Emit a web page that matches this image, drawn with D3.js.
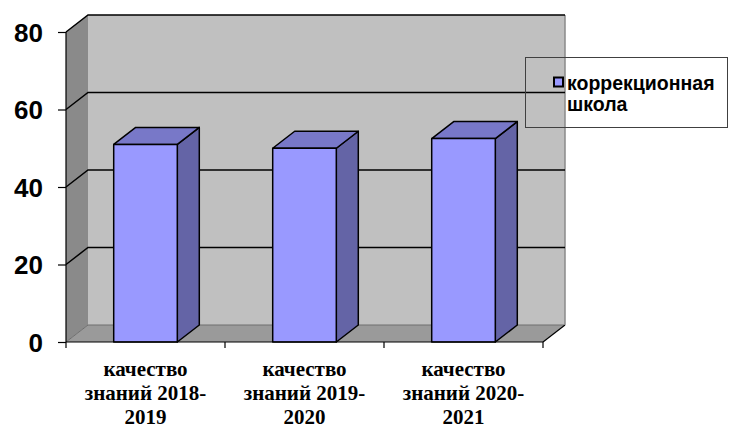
<!DOCTYPE html>
<html><head><meta charset="utf-8">
<script src="https://cdn.jsdelivr.net/npm/d3@7"></script>
<style>html,body{margin:0;padding:0;background:#fff;}svg{display:block;}</style>
</head><body>
<svg id="c" width="729" height="428"></svg>
<script>
const categories = [["качество", "знаний 2018-", "2019"], ["качество", "знаний 2019-", "2020"], ["качество", "знаний 2020-", "2021"]];
const values = [51, 50, 52.5];
const seriesName = ["коррекционная", "школа"];
const yTicks = [0, 20, 40, 60, 80];

const svg = d3.select("#c");
const DX = 22, DY = -17;
const y = d3.scaleLinear().domain([0, 80]).range([342, 32]);
const x = d3.scaleBand().domain(d3.range(categories.length)).range([66, 543]).paddingInner(0.6).paddingOuter(0.3);
const x0 = 66, x1 = 543;
const yTop = y(80), yBot = y(0);
const line = d3.line();

// back wall
svg.append("path").attr("d", line([[x0+DX, yTop+DY],[x1+DX, yTop+DY],[x1+DX, yBot+DY],[x0+DX, yBot+DY]]) + "Z")
  .attr("fill", "#c0c0c0").attr("stroke", "none");
// side wall
svg.append("path").attr("d", line([[x0, yTop],[x0+DX, yTop+DY],[x0+DX, yBot+DY],[x0, yBot]]) + "Z")
  .attr("fill", "#8a8a8a").attr("stroke", "none");
// floor
svg.append("path").attr("d", line([[x0, yBot],[x0+DX, yBot+DY],[x1+DX, yBot+DY],[x1, yBot]]) + "Z")
  .attr("fill", "#9a9a9a").attr("stroke", "none");
// floor edges
svg.append("path").attr("d", line([[x0, yBot],[x0+DX, yBot+DY],[x1+DX, yBot+DY]]))
  .attr("fill", "none").attr("stroke", "#6e6e6e").attr("stroke-width", 1);
svg.append("path").attr("d", line([[x1, yBot],[x1+DX, yBot+DY]]))
  .attr("fill", "none").attr("stroke", "#000").attr("stroke-width", 1.2);
// right edge of back wall
svg.append("path").attr("d", line([[x1+DX, yTop+DY],[x1+DX, yBot+DY]]))
  .attr("fill", "none").attr("stroke", "#8a8a8a").attr("stroke-width", 1.5);

// gridlines
yTicks.filter(t => t > 0).forEach(t => {
  const yy = y(t);
  svg.append("path").attr("d", line([[x0, yy],[x0+DX, yy+DY],[x1+DX, yy+DY]]))
    .attr("fill", "none").attr("stroke", "#000").attr("stroke-width", 1.5);
});

// bars
const bw = x.bandwidth();
values.forEach((v, i) => {
  const bx = x(i), by = y(v);
  const g = svg.append("g").attr("stroke", "#000").attr("stroke-width", 1.5).attr("stroke-linejoin", "round");
  g.append("path").attr("d", line([[bx+bw, by],[bx+bw+DX, by+DY],[bx+bw+DX, yBot+DY],[bx+bw, yBot]]) + "Z").attr("fill", "#6464a6");
  g.append("path").attr("d", line([[bx, by],[bx+DX, by+DY],[bx+bw+DX, by+DY],[bx+bw, by]]) + "Z").attr("fill", "#7878c8");
  g.append("rect").attr("x", bx).attr("y", by).attr("width", bw).attr("height", yBot - by).attr("fill", "#9999ff");
});

// y axis
const yAxis = d3.axisLeft(y).tickValues(yTicks).tickSize(8).tickPadding(15).tickFormat(d3.format("d"));
const ya = svg.append("g").attr("transform", `translate(${x0},0)`).call(yAxis);
ya.selectAll(".domain").attr("stroke", "#000").attr("stroke-width", 1.2).attr("d", `M0,${yTop}V${yBot}`);
ya.selectAll(".tick line").attr("stroke", "#000").attr("stroke-width", 1.2);
ya.selectAll(".tick text").attr("font-family", "Liberation Sans, Arial, sans-serif").attr("font-weight", "bold")
  .attr("font-size", 26).attr("fill", "#000").attr("dy", "0.36em");

// x axis
const xEdges = d3.range(categories.length + 1).map(i => x0 + i * x.step());
svg.append("path").attr("d", `M${x0},${yBot}H${x1}`).attr("stroke", "#000").attr("stroke-width", 1.2);
xEdges.forEach(xe => {
  svg.append("path").attr("d", `M${xe},${yBot}V${yBot+6}`).attr("stroke", "#000").attr("stroke-width", 1.2);
});
categories.forEach((lines, i) => {
  const cx = x(i) + bw / 2;
  const t = svg.append("text").attr("text-anchor", "middle").attr("font-family", "Liberation Serif, Times New Roman, serif")
    .attr("font-weight", "bold").attr("font-size", 21).attr("fill", "#000");
  lines.forEach((l, j) => t.append("tspan").attr("x", cx).attr("y", 375.5 + j * 24).text(l));
});

// legend
svg.append("rect").attr("x", 525.5).attr("y", 57.5).attr("width", 202).attr("height", 70)
  .attr("fill", "none").attr("stroke", "#404040").attr("stroke-width", 1);
svg.append("rect").attr("x", 554).attr("y", 77.5).attr("width", 9).attr("height", 9)
  .attr("fill", "#9999ff").attr("stroke", "#000").attr("stroke-width", 2);
const lt = svg.append("text").attr("font-family", "Liberation Sans, Arial, sans-serif").attr("font-weight", "bold")
  .attr("font-size", 19.5).attr("fill", "#000");
seriesName.forEach((l, j) => lt.append("tspan").attr("x", 567).attr("y", 90 + j * 21).text(l));
</script>
</body></html>
